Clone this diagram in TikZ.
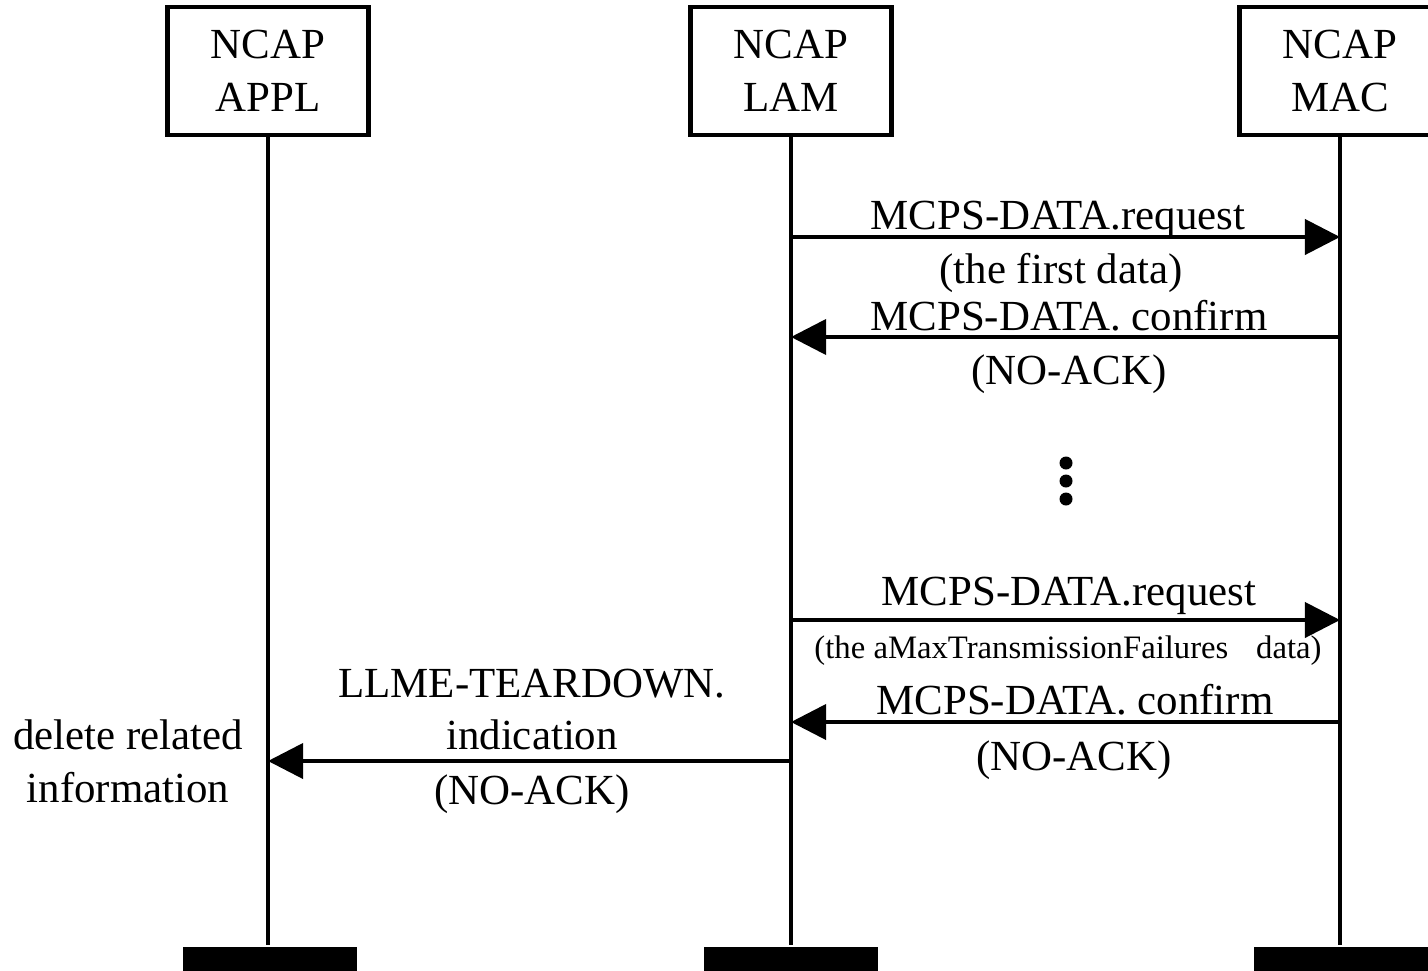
\documentclass[tikz,border=0pt]{standalone}
\usepackage{fontspec}
\setmainfont{Liberation Serif}
\usetikzlibrary{arrows.meta}

\begin{document}
\begin{tikzpicture}[x=0.01cm, y=-0.01cm,
    line width=1.1pt,
    entity/.style={draw, line width=1.3pt, fill=white, align=center, minimum width=2.01cm, minimum height=1.28cm, font=\fontsize{12.2}{15}\selectfont},
    bar/.style={fill=black, draw=none, minimum width=1.73cm, minimum height=0.3cm, inner sep=0pt},
    msg/.style={-{Triangle[length=10pt, width=10pt]}},
    lbl/.style={font=\fontsize{12.2}{15}\selectfont, inner sep=0pt},
    small/.style={font=\fontsize{9.3}{11}\selectfont, inner sep=0pt}]
    \useasboundingbox (0,0) rectangle (1428,970);

    % entities and their bars
    \node[entity] (appl) at (268,71) {NCAP\\APPL};
    \node[entity] (lam)  at (791,71) {NCAP\\LAM};
    \node[entity] (mac)  at (1340,71) {NCAP\\MAC};
    \node[bar, anchor=north] (barappl) at (270,945) {};
    \node[bar, anchor=north] (barlam)  at (791,945) {};
    \node[bar, anchor=north] (barmac)  at (1341,945) {};

    % lifelines
    \draw (appl.south) -- (barappl.north -| appl.south);
    \draw (lam.south) -- (barlam.north -| lam.south);
    \draw (mac.south) -- (barmac.north -| mac.south);

    % message end points
    \coordinate (lam1) at (791,237);  \coordinate (mac1) at (1340,237);
    \coordinate (lam2) at (791,337);  \coordinate (mac2) at (1340,337);
    \coordinate (lam3) at (791,620);  \coordinate (mac3) at (1340,620);
    \coordinate (lam4) at (791,722);  \coordinate (mac4) at (1340,722);
    \coordinate (lam5) at (791,761);  \coordinate (appl5) at (268,761);

    \draw[msg] (lam1) -- (mac1);
    \draw[msg] (mac2) -- (lam2);
    \draw[msg] (lam3) -- (mac3);
    \draw[msg] (mac4) -- (lam4);
    \draw[msg] (lam5) -- (appl5);

    % labels
    \node[lbl, anchor=base] (req1)  at (1058,229) {MCPS-DATA.request};
    \node[lbl, anchor=base] (data1) at (1061,283) {(the first data)};
    \node[lbl, anchor=base] (conf1) at (1069,330) {MCPS-DATA. confirm};
    \node[lbl, anchor=base] (nack1) at (1069,384) {(NO-ACK)};
    \node[lbl, anchor=base] (req2)  at (1069,605) {MCPS-DATA.request};
    \node[small, anchor=base] (data2) at (1068,658) {(the aMaxTransmissionFailures\hspace{0.6em} data)};
    \node[lbl, anchor=base] (conf2) at (1075,714) {MCPS-DATA. confirm};
    \node[lbl, anchor=base] (nack2) at (1074,770) {(NO-ACK)};
    \node[lbl, anchor=base] (tear)  at (532,697) {LLME-TEARDOWN.};
    \node[lbl, anchor=base] (ind)   at (532,749) {indication};
    \node[lbl, anchor=base] (nack3) at (532,804) {(NO-ACK)};
    \node[lbl, anchor=base] (del)   at (128,749) {delete related};
    \node[lbl, anchor=base] (info)  at (128,802) {information};

    % ellipsis
    \foreach \y in {463,481,499}
      \fill (1066,\y) circle (0.065cm);
\end{tikzpicture}
\end{document}
